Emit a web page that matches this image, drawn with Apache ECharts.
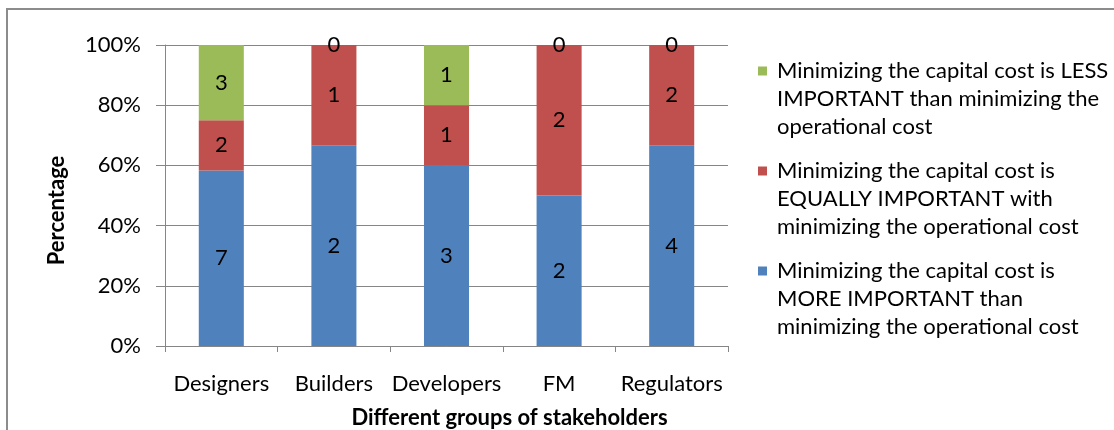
<!DOCTYPE html>
<html>
<head>
<meta charset="utf-8">
<script src="https://cdn.jsdelivr.net/npm/echarts@6/dist/echarts.min.js"></script>
<style>
  html, body { margin: 0; padding: 0; background: #fff; }
  #chart { width: 1114px; height: 430px; }
</style>
</head>
<body>
<div id="chart"></div>
<script>
// stakeholder groups
const categories = ['Designers', 'Builders', 'Developers', 'FM', 'Regulators'];
// number of answers per group
const moreCounts = [7, 2, 3, 2, 4];
const equalCounts = [2, 1, 1, 2, 2];
const lessCounts = [3, 0, 1, 0, 0];
const yTicks = [0, 20, 40, 60, 80, 100];

const names = {
  less: 'Minimizing the capital cost is LESS\nIMPORTANT than minimizing the\noperational cost',
  equal: 'Minimizing the capital cost is\nEQUALLY IMPORTANT with\nminimizing the operational cost',
  more: 'Minimizing the capital cost is\nMORE IMPORTANT than\nminimizing the operational cost'
};

const font = 'Lato';
const totals = categories.map((c, i) => moreCounts[i] + equalCounts[i] + lessCounts[i]);

// percent stacked, label shows the count
function share(counts) {
  return counts.map((v, i) => ({ value: v / totals[i] * 100, count: v }));
}

function barSeries(name, counts, color) {
  return {
    name: name,
    type: 'bar',
    stack: 'all',
    barWidth: '40%',
    itemStyle: { color: color },
    label: {
      show: true,
      position: 'inside',
      color: '#000',
      fontFamily: font,
      fontSize: 22,
      formatter: p => p.data.count
    },
    data: share(counts)
  };
}

const chart = echarts.init(document.getElementById('chart'));
chart.setOption({
  animation: false,
  textStyle: { fontFamily: font },
  graphic: [{
    type: 'rect',
    shape: { x: 7, y: 9, width: 1200, height: 500 },
    style: { fill: 'none', stroke: '#8c8c8c', lineWidth: 2 },
    silent: true
  }],
  grid: { left: 165, top: 45, width: 563, height: 301, outerBoundsMode: 'none' },
  legend: {
    orient: 'vertical',
    left: 758,
    top: 57,
    padding: 0,
    itemGap: 16,
    itemWidth: 9,
    itemHeight: 65,
    // square sits beside the first line of the wrapped text
    icon: 'path://M0,0H9V9H0Z M0,65',
    data: [names.less, names.equal, names.more],
    textStyle: {
      fontFamily: font,
      fontSize: 22,
      color: '#000',
      lineHeight: 28,
      padding: [0, 0, 0, 5]
    }
  },
  xAxis: {
    type: 'category',
    data: categories,
    axisLine: { lineStyle: { color: '#868686', width: 1 } },
    axisTick: { show: true, length: 6, lineStyle: { color: '#868686' } },
    axisLabel: { color: '#000', fontSize: 22, fontFamily: font, margin: 27, interval: 0 },
    name: 'Different groups of stakeholders',
    nameLocation: 'middle',
    nameGap: 61,
    nameTextStyle: { color: '#000', fontSize: 22, fontWeight: 'bold', fontFamily: font, padding: [0, 0, 0, 126] }
  },
  yAxis: {
    type: 'value',
    min: yTicks[0],
    max: yTicks[yTicks.length - 1],
    interval: 20,
    axisLine: { show: true, lineStyle: { color: '#868686' } },
    axisTick: { show: true, length: 9, lineStyle: { color: '#868686' } },
    splitLine: { lineStyle: { color: '#868686' } },
    axisLabel: { color: '#000', fontSize: 22, fontFamily: font, margin: 24, formatter: '{value}%' },
    name: 'Percentage',
    nameLocation: 'middle',
    nameGap: 97,
    nameTextStyle: { color: '#000', fontSize: 22, fontWeight: 'bold', fontFamily: font, padding: [0, 30, 0, 0] }
  },
  series: [
    barSeries(names.more, moreCounts, '#4f81bd'),
    barSeries(names.equal, equalCounts, '#c0504d'),
    barSeries(names.less, lessCounts, '#9bbb59')
  ]
});
</script>
</body>
</html>
